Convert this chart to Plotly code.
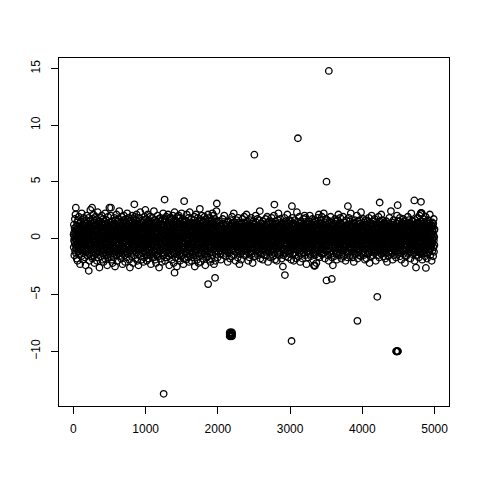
import plotly.graph_objects as go

# index plot of a long noisy series (R style plot(y)), thinned to every 2nd observation
STEP = 2

# band values in tenths, one value per 2 observations (index 2, 4, ..., 5000)
band_tenths = [
    3, -8, 12, -2, 5, -15, 0, 9, -4, 17, -11, 2, -6, 21, 7, -1, -13, 4, 10, -9, 1, -18, 6, -3, 14,
    -7, 11, -20, 2, 8, -5, 16, -12, 0, 4, -2, 19, -9, 6, -14, 3, -1, 13, -6, 9, -23, 1, 7, -10, 5,
    15, -3, -8, 10, -16, 2, 22, -4, 6, -11, 0, 8, -7, 12, -1, -19, 5, 3, -13, 18, -5, 9, -2, 1, -9,
    -4, 7, 14, -17, 0, 11, -6, 3, -24, 8, 2, -10, 16, -3, 5, -12, 20, -8, 1, 13, -1, -15, 6, 10, -5,
    9, -2, -11, 4, 18, -7, 1, -14, 12, -20, 3, 7, -4, 0, 15, -9, 25, -6, 11, -1, 5, -16, 2, 8, -13,
    -10, 6, 1, -5, 13, -18, 9, -3, 4, 17, -12, 0, 21, -8, 2, -15, 7, -2, 10, -22, 14, -6, 3, -9, 11,
    2, -14, 19, -1, 8, -7, 12, 5, -11, -3, 16, -20, 6, 1, -9, 10, -4, 23, -13, 7, 0, -17, 4, 13, -6,
    -1, 11, -8, 15, -26, 3, -5, 9, 0, -12, 18, -2, 6, -16, 10, 4, -7, 14, -10, 1, 20, -4, 8, -19, 5,
    12, -6, 2, -13, 7, 17, -9, 0, -21, 11, 4, -3, 15, -11, 6, -1, 9, -18, 3, 22, -8, 13, -5, 1, -14,
    7, -10, 16, -4, 0, -15, 10, 5, -24, 2, 13, -7, 8, -1, 19, -12, 4, 11, -17, 6, -3, 14, -9, 27, -2,
    -5, 9, 1, -12, 14, 3, -8, 20, -16, 0, 6, -2, 11, -19, 8, 2, -10, 15, -6, 4, -22, 12, -1, 7, -13,
    10, -3, -17, 5, 13, -9, 1, 18, -7, 3, -14, 9, -25, 6, 0, 12, -4, 16, -11, 2, 8, -6, 21, -1, -15,
    4, -12, 7, 0, -20, 15, -5, 10, 2, -9, 17, -3, 6, -13, 11, -1, 24, -8, 3, -16, 9, 5, -2, 13, -10,
    -8, 14, -1, 6, -18, 2, 11, -6, 19, -11, 0, 7, -4, 12, -23, 3, 9, -14, 5, 16, -7, 1, -10, 20, -3,
    1, -9, 13, -15, 4, 8, -2, -21, 10, 6, -12, 17, 0, -5, 14, -8, 2, 11, -17, 7, -1, 22, -13, 3, 9,
    -14, 5, 0, 12, -7, 18, -10, 3, -3, 15, -19, 8, 1, -6, 10, -26, 4, 13, -2, 6, -11, 16, -4, 2, 11,
    6, -1, -16, 9, 2, -8, 20, -12, 14, -4, 0, 7, -22, 11, 3, -9, 17, -5, 1, 12, -15, 8, -3, 19, -7,
    -11, 13, 4, -2, -18, 10, 1, 16, -6, 5, -13, 21, -9, 0, 8, -3, 12, -20, 6, 15, -1, -10, 3, 7, -24,
    8, -5, 11, -14, 2, 18, -7, 0, 13, -10, 5, -1, 23, -16, 9, -4, 3, -12, 14, 1, -8, 10, -19, 6, -2,
    3, 16, -9, 1, -13, 7, -3, 11, -21, 4, 14, -6, 0, 9, -17, 19, -2, 5, -11, 12, -5, 2, 25, -8, -1,
    -6, 10, -12, 17, 0, -4, 6, -20, 13, 2, -9, 8, -15, 4, 21, -1, 11, -7, 3, -18, 15, -3, 9, -11, 1,
    12, -2, 5, -10, 19, -14, 1, 7, -5, 15, -23, 3, 10, -8, 0, 13, -12, 6, -1, 18, -16, 4, -6, 11, -4,
    -3, 8, -17, 2, 12, -7, 24, -11, 5, -1, 16, -13, 9, 0, -19, 6, 14, -4, 1, -9, 10, -22, 7, 3, -15,
    14, -6, 1, 9, -12, 4, -2, 20, -16, 11, -8, 6, 0, -14, 17, -3, 13, -26, 5, 2, -10, 8, -5, 15, -1,
    0, -11, 18, -4, 7, -18, 10, 2, -7, 13, -1, -21, 9, 4, -13, 16, -5, 11, 1, -9, 22, -2, 6, -15, 12,
    -9, 4, -14, 11, 1, 15, -6, 8, -20, 3, -2, 17, -10, 7, 0, -12, 19, -4, 12, -17, 5, 9, -3, 2, -8,
    5, -13, 10, -1, 21, -8, 3, -16, 14, 0, -5, 12, -24, 6, 9, -11, 2, 18, -7, 1, -14, 11, -2, 16, -10,
    -2, 17, -7, 4, -15, 9, -19, 13, 1, -6, 8, -12, 20, -3, 5, -9, 15, 0, -22, 10, -4, 7, 3, -13, 23,
    11, -4, 2, -11, 16, -1, 6, -17, 9, -8, 14, 3, -14, 0, 12, -25, 7, -5, 19, -10, 1, 13, -6, 4, -18,
    -12, 7, -3, 20, -9, 1, 10, -15, 5, 13, -6, -2, 18, -20, 8, 2, -11, 15, -1, 6, -16, 11, -7, 22, 0,
    6, -15, 12, -5, 3, -10, 17, 0, -13, 9, -23, 4, 14, -8, 1, 11, -3, -18, 7, 16, -9, 2, -12, 10, -4,
    -7, 2, 15, -12, 8, -19, 4, 11, -1, 21, -14, 6, -5, 0, 13, -10, 9, 3, -17, 12, -2, 18, -8, 5, -21,
    9, -1, -13, 6, 23, -7, 11, -4, 2, -16, 14, -9, 7, 1, -11, 17, -20, 5, 10, -3, 0, -14, 13, -6, 8,
    -4, 12, -8, 1, -17, 10, 5, -2, 16, -12, 3, 19, -7, 9, -25, 4, -1, 13, -10, 7, 2, -15, 21, -5, 11,
    2, -10, 7, 14, -6, 0, -19, 12, -3, 8, 18, -13, 4, -1, 10, -22, 6, 15, -9, 1, -4, 11, -16, 3, 26,
    -13, 5, 10, -3, 13, -21, 1, 7, -9, 16, -5, 0, 11, -14, 20, -2, 8, -11, 4, 14, -18, 6, -1, 9, -7,
    15, -8, 0, 11, -4, 6, -14, 19, -10, 2, 12, -1, -24, 9, 4, -7, 17, -12, 3, -5, 13, 1, -17, 8, -3,
    -1, 10, -16, 4, 8, -11, 21, -6, 13, 0, -9, 15, -3, 6, -19, 11, 2, -13, 18, -8, 5, -2, 12, -21, 7,
    4, -7, 13, -18, 1, 9, -3, 16, -12, 6, -1, 22, -15, 10, 0, -6, 14, -10, 3, 20, -4, 7, -23, 11, -9,
    8, -2, -12, 17, 5, -9, 2, -20, 12, 1, -6, 14, -14, 7, 24, -3, 10, -11, 0, 15, -7, 3, -17, 9, 2,
    0, 4, -3, 9, -12, 1, 6, -7, 15, -2, -9, 3, 11, -5, 8, -1, -14, 5, 2, -19, 7, 12, -4, -8, 1,
    -6, 2, 10, -11, 4, 0, -3, 17, -8, 5, 13, -1, -6, 9, -15, 3, -2, 7, 20, -10, 1, -4, 6, -13, 8,
    11, -7, 1, -2, 5, -16, 8, 3, -9, 12, 0, -5, 14, -12, 2, 6, -1, -21, 9, -3, 4, 15, -7, 0, -10,
    5, -1, -13, 7, 2, 10, -6, -18, 4, 1, -8, 16, -3, 6, 11, -10, 0, 3, -5, 13, -16, 8, 19, -2, -4,
    -9, 13, 3, -4, -11, 8, 1, 6, -15, 22, -2, 4, -7, 10, -1, 0, 14, -12, 5, -6, 9, -20, 2, 12, -3,
    7, -5, 16, 0, -8, 3, -13, 11, 1, -4, 6, -17, 9, -1, 4, 18, -10, 2, -6, 14, -2, 5, -11, -23, 10,
    -2, 9, -7, 1, 12, -14, 5, 0, -3, 8, -19, 13, 2, -9, 6, 3, -12, 10, -5, 1, 17, -8, -1, 7, 4,
    14, -11, 2, 6, -4, 0, 19, -15, 8, -6, 3, 11, -1, -10, 5, -2, 13, -7, 0, 9, -14, 4, 21, -12, 1,
    -3, 6, -10, 15, 1, -7, 4, -2, 10, -20, 7, 0, -5, 12, -13, 3, 8, -1, -17, 11, 2, -6, 16, -9, 5,
    2, -12, 8, -1, 18, -5, 0, 9, -14, 4, -3, 13, -8, 1, 6, -22, 10, -4, 3, 15, -11, 7, -2, 0, -16,
    10, -4, -1, 12, -9, 5, 3, -16, 7, 0, -6, 20, -11, 2, 14, -3, -8, 6, 1, -13, 9, -1, 4, 17, -7,
    -15, 3, 7, -6, 1, 11, -10, 4, -2, 16, -12, 8, 0, -4, 24, -9, 2, 5, -18, 10, -3, 13, -1, 6, -8,
    4, 9, -14, 0, 6, -3, 13, -7, -1, 10, -19, 2, 15, -5, 3, -10, 8, -2, 12, -15, 1, 7, -6, 11, 0,
    -7, 1, 5, -12, 17, -2, -8, 9, 3, -15, 6, 0, -4, 12, -9, 19, -1, 4, -11, 2, 8, -21, 14, -3, 6,
    12, -8, 0, 3, -5, 15, -13, 7, 1, -2, 10, -17, 4, 8, -6, -1, 13, -10, 5, 0, -14, 18, -4, 2, 9,
    -1, -10, 14, -6, 2, 7, -16, 0, 11, -3, 5, -9, 20, -12, 1, 4, -7, 9, -2, -19, 12, 3, -5, 15, -8,
    6, 2, -9, 13, -4, 0, 8, -20, 3, 10, -7, 1, -13, 16, -2, 5, -11, 0, 22, -6, 7, -3, 11, -15, 4,
    -12, 8, 3, -1, 10, -7, 17, -4, -14, 5, 1, 12, -9, 2, -3, 14, -18, 6, 0, -8, 9, 4, -2, 13, -25,
    3, -6, 11, -15, 0, 9, -2, 6, -10, 18, -5, 1, 8, -13, 4, -1, 12, -7, 15, 2, -16, 10, -4, 0, 7,
    -5, 14, -1, 4, -9, 21, -12, 2, 7, -3, -17, 10, 0, 6, -8, 13, -2, -11, 5, 1, 16, -6, 3, -14, 9,
    8, -3, -7, 1, 15, -11, 4, -19, 0, 12, -5, 7, 2, -9, 18, -1, 6, -14, 10, -4, 3, -2, 13, -8, -20,
    1, 11, -6, -13, 7, 3, -1, 16, -9, 5, -15, 0, 9, -4, 2, 12, -18, 8, -2, 6, -10, 23, -5, 4, -1,
    -11, 5, 9, -3, 0, -8, 14, 2, -16, 10, 6, -5, -1, 19, -12, 3, 7, -9, 1, -21, 11, 4, -6, 15, -2,
    13, -9, 2, 6, -14, 1, -4, 10, 8, -18, 3, -1, 12, -7, 5, 0, -11, 17, -3, 7, -13, 2, 9, -6, 20,
    -4, 0, -15, 11, 3, -6, 18, -10, 1, 7, -2, 13, -23, 5, 9, -8, 0, 14, -5, 2, -12, 6, -1, 10, -17,
    9, -13, 6, -2, 12, -5, 0, 15, -9, 3, 20, -14, 1, -7, 4, 11, -3, -16, 8, 0, 13, -10, 5, -1, 7,
    -8, 3, -1, 17, -11, 6, 2, -4, 9, -19, 14, 0, -6, 5, -13, 10, 1, -2, 16, -9, 4, -15, 12, 3, -5,
    2, 15, -10, 4, -3, 8, -22, 11, -1, 6, -8, 1, 13, -12, 0, 18, -5, 7, -16, 3, 10, -2, -7, 21, -11,
    7, -1, 4, -17, 9, 0, -6, 13, -3, 2, -12, 16, 5, -9, 11, -4, 1, -14, 8, 19, -7, 3, -1, -10, 12,
    -14, 10, -5, 1, 6, -9, 3, 22, -13, 8, 0, -3, 11, -7, 4, -18, 14, 2, -1, 9, -11, 5, 17, -6, 0,
    5, -7, 12, -1, -10, 16, -4, 3, 8, -15, 1, 10, -2, -6, 13, 0, -20, 7, 4, -9, 15, -3, 2, -12, 9,
    -2, 8, -11, 6, 19, -3, 0, -14, 11, 4, -7, 14, -1, 2, -17, 9, 5, -8, 12, -4, -24, 1, 10, 6, -13,
    11, -5, 1, -9, 7, 13, -16, 2, 0, -4, 17, -11, 6, 3, -7, 10, -1, 15, -13, 5, -2, 8, -19, 0, 4,
    -9, 2, 16, -6, 3, -12, 9, -1, 21, -8, 5, 0, -15, 11, 1, -3, 7, -10, 14, -5, 3, 18, -7, -2, 10,
    0, 13, -4, 8, -18, 1, 6, -9, -2, 12, -14, 4, 10, -6, 2, -11, 19, -1, 5, -16, 9, 0, -3, 14, -8,
    6, -10, 3, 0, 14, -7, -1, 11, -20, 5, 8, -3, 1, -12, 16, 2, -6, 9, -13, 4, 12, -1, 7, -17, 3,
    -13, 4, 9, -5, 1, 18, -8, 2, -11, 7, 0, 15, -4, -9, 10, 3, -15, 6, -2, 22, -7, 11, 1, -5, -10,
    10, -2, -8, 12, 4, -6, 0, -17, 9, 1, 14, -12, 5, -3, 7, -21, 13, 2, -10, 6, -1, 16, -14, 8, 0,
    -6, 7, 1, -14, 11, -3, 5, 9, -9, 0, -5, 20, -12, 3, 8, -1, 12, -18, 4, -7, 15, 2, -11, 6, -2,
    3, -15, 10, 2, -7, 16, -1, -10, 6, 13, -4, 0, 9, -16, 1, 23, -8, 4, -2, 11, -13, 7, 5, -6, 1,
    12, -1, -12, 5, 8, -4, 2, 17, -15, 0, 6, -9, 11, -2, 14, -7, 3, -19, 9, 1, -5, 12, -10, 4, 16,
    -5, 9, 0, -18, 3, 12, -7, 6, -1, -11, 15, 2, -14, 8, 0, 10, -4, 5, -9, 18, -2, -13, 7, 1, -22,
    8, -4, 14, -1, -9, 3, 11, -16, 6, 0, -6, 13, -3, 20, -12, 4, 1, -8, 10, -2, 7, -15, 2, 12, -6,
    -1, 6, -10, 15, 2, -5, -13, 9, 1, 17, -8, 4, 0, -11, 12, -3, 8, -20, 5, 3, -7, 14, -1, -9, 11,
    4, -11, 7, 0, 13, -6, 2, -15, 10, -3, 5, 19, -10, 1, -4, 8, -17, 12, 0, -8, 15, -2, 6, 3, -13,
    -10, 1, 12, -7, 5, 21, -14, 3, -2, 9, -6, 0, 16, -12, 7, -1, 11, -5, 2, -16, 10, 4, -9, 13, -3,
    14, -3, 2, -11, 8, 0, -8, 12, -18, 6, 1, -4, 10, -13, 3, 15, -7, 5, -1, 9, -21, 11, 2, -5, 7,
    -7, 11, -2, 4, -16, 9, 1, -5, 13, -9, 0, 18, -3, 6, -12, 2, 10, -14, 7, -1, 4, -8, 24, -11, 1,
    6, 0, -13, 10, -4, 14, -9, 2, 5, -19, 8, 1, -6, 12, -2, -10, 16, 3, -15, 7, 0, -3, 11, -7, 9,
    -12, 5, 8, -1, -6, 11, 3, -17, 9, 0, 13, -8, 2, -4, 20, -11, 6, 1, -9, 15, -5, 10, -14, 4, -2,
    2, -8, 15, -4, 7, -12, 0, 10, -1, 18, -16, 5, -7, 3, 9, -13, 12, 1, -3, -19, 6, 14, -10, 8, 0,
    -4, 13, -9, 1, 11, -2, 5, -14, 17, 3, -6, 0, 8, -11, 4, 15, -1, -8, 10, -22, 2, 7, -5, 12, -15,
    9, -6, 3, -16, 0, 12, -10, 6, 2, -3, 14, -13, 7, -1, 19, -7, 4, -12, 1, 11, -4, 16, -9, 5, -2,
    -1, 7, -12, 10, 4, -8, 1, 13, -18, 6, -2, 9, -5, 22, -10, 0, 3, -6, 15, -14, 8, 2, -3, -11, 12,
    15, -9, 0, 5, -13, 8, -3, 1, 11, -7, 4, -20, 12, 2, -1, 16, -11, 6, -4, 9, 0, -15, 13, -6, 3,
    -8, 2, 10, -15, 6, -1, 18, -9, 3, 0, -12, 7, 14, -4, 1, -17, 11, -2, 5, -10, 20, -6, 4, 8, -13,
    5, 12, -5, 0, -10, 9, 2, -14, 15, -3, 7, -8, 1, 11, -19, 4, -1, 13, -6, 3, -12, 10, -2, 17, -7,
    -11, 4, 1, 14, -7, -2, 9, 6, -16, 12, 0, -5, 19, -9, 3, 8, -13, 1, -3, 15, -8, 5, -18, 2, 10,
    7, -14, 11, -3, 3, 16, -6, -10, 8, 1, -4, 13, -12, 5, 0, -7, 21, -1, 10, -15, 6, 2, -9, 12, -5,
    -3, 9, -7, 2, -20, 11, 4, -1, 14, -11, 6, -4, 10, 0, -16, 13, 3, -8, 17, -2, -12, 7, 1, -6, 8,
]

# isolated points and stuck-value runs
extra_idx = [3536, 3108, 2505, 3504, 1249, 3020, 3932, 4207,
             1865, 1961, 3504, 3577, 2928, 1400, 212, 4743, 4880,
             1262, 1533, 1985, 843, 4240, 4720, 4812, 2782, 3025, 4489, 3800, 33, 258, 520,
             2164, 2180, 2196, 2164, 2180, 2196, 2164, 2180, 2196, 2172, 2188, 2172, 2188,
             4468, 4473, 4478, 4483, 4488, 4493,
             4810, 4812, 4814, 4816, 4818, 4822,
             3330, 3337, 3345]
extra_val = [14.8, 8.84, 7.39, 5.0, -13.76, -9.09, -7.31, -5.18,
             -4.06, -3.5, -3.73, -3.6, -3.26, -3.05, -2.88, -2.6, -2.63,
             3.42, 3.28, 3.07, 3.0, 3.16, 3.34, 3.22, 2.98, 2.83, 2.92, 2.83, 2.7, 2.7, 2.7,
             -8.33, -8.33, -8.33, -8.5, -8.5, -8.5, -8.67, -8.67, -8.67, -8.42, -8.42, -8.58, -8.58,
             -10.0, -10.02, -9.98, -10.0, -10.01, -9.99,
             2.15, 2.25, 2.2, 2.18, 2.22, 2.2,
             -2.4, -2.45, -2.42]

band_idx = [STEP * (i + 1) for i in range(len(band_tenths))]
band_val = [v / 10 for v in band_tenths]

marker = dict(symbol="circle-open", size=6.5, color="black", line=dict(width=1.3, color="black"))

fig = go.Figure()
fig.add_trace(go.Scatter(x=band_idx, y=band_val, mode="markers", marker=marker,
                         hoverinfo="skip"))
fig.add_trace(go.Scatter(x=extra_idx, y=extra_val, mode="markers", marker=marker,
                         hoverinfo="skip"))

axis_common = dict(showgrid=False, zeroline=False, showline=True, mirror=True,
                   linecolor="black", linewidth=1, ticks="outside", ticklen=7,
                   tickcolor="black", tickfont=dict(size=12, color="black"))

# the page body adds an 8px offset, so the margins are shifted to compensate
fig.update_layout(
    width=480, height=480,
    margin=dict(l=51, r=39, t=50, b=82),
    paper_bgcolor="white", plot_bgcolor="white",
    showlegend=False,
    font=dict(family="Liberation Sans, Arial, sans-serif", size=12, color="black"),
    xaxis=dict(range=[-200, 5200], tickmode="array", ticklabelstandoff=5,
               tickvals=[0, 1000, 2000, 3000, 4000, 5000], **axis_common),
    yaxis=dict(range=[-14.84, 15.94], tickmode="array", ticklabelstandoff=6,
               tickvals=[-10, -5, 0, 5, 10, 15], tickangle=-90, **axis_common),
)

fig.write_html("out.html")
